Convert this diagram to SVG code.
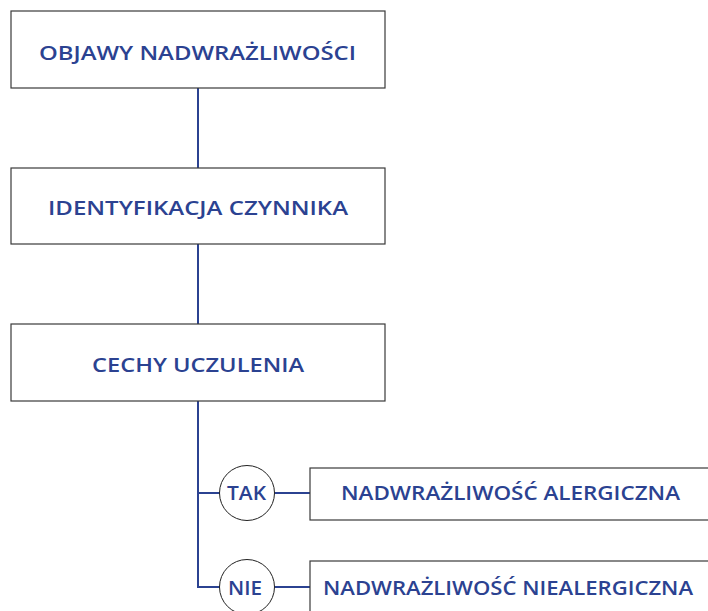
<svg xmlns="http://www.w3.org/2000/svg" width="708" height="611" viewBox="0 0 708 611">
<style>
.box{fill:#fff;stroke:#3a3a3a;stroke-width:1.2}
.circ{fill:#fff;stroke:#222;stroke-width:1}
.t{font-family:"Open Sans","Liberation Sans",sans-serif;font-weight:600;font-size:20.5px;fill:#2b4291}
.c{stroke:#2b4291;stroke-width:2;fill:none}
</style>
<rect width="708" height="611" fill="#fff"/>
<g id="connectors">
<line class="c" x1="198" y1="88" x2="198" y2="168"/>
<line class="c" x1="198" y1="244" x2="198" y2="324"/>
<path class="c" d="M198 401 V587 H220"/>
<line class="c" x1="198" y1="493" x2="220" y2="493"/>
<line class="c" x1="275" y1="493" x2="310" y2="493"/>
<line class="c" x1="275" y1="587" x2="310" y2="587"/>
</g>
<g id="n1"><rect class="box" x="11" y="11" width="374" height="77"/><text class="t" x="39" y="60" textLength="317" lengthAdjust="spacingAndGlyphs">OBJAWY NADWRAŻLIWOŚCI</text></g>
<g id="n2"><rect class="box" x="11" y="168" width="374" height="76"/><text class="t" x="48" y="215" textLength="300" lengthAdjust="spacingAndGlyphs">IDENTYFIKACJA CZYNNIKA</text></g>
<g id="n3"><rect class="box" x="11" y="324" width="374" height="77"/><text class="t" x="92" y="372" textLength="212" lengthAdjust="spacingAndGlyphs">CECHY UCZULENIA</text></g>
<g id="tak"><circle class="circ" cx="247" cy="493" r="27.5"/><text class="t" x="227" y="500" textLength="39" lengthAdjust="spacingAndGlyphs">TAK</text></g>
<g id="n4"><rect class="box" x="310" y="468" width="410" height="52"/><text class="t" x="341" y="500" textLength="339" lengthAdjust="spacingAndGlyphs">NADWRAŻLIWOŚĆ ALERGICZNA</text></g>
<g id="nie"><circle class="circ" cx="247" cy="587" r="27.5"/><text class="t" x="228" y="595" textLength="34" lengthAdjust="spacingAndGlyphs">NIE</text></g>
<g id="n5"><rect class="box" x="310" y="561" width="410" height="60"/><text class="t" x="323" y="595" textLength="370" lengthAdjust="spacingAndGlyphs">NADWRAŻLIWOŚĆ NIEALERGICZNA</text></g>
</svg>
